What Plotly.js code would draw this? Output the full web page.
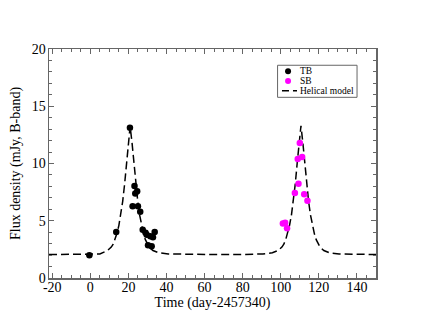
<!DOCTYPE html>
<html>
<head>
<meta charset="utf-8">
<script src="https://cdn.plot.ly/plotly-3.0.1.min.js"></script>
<style>html,body{margin:0;padding:0;background:#fff;}#chart{width:423px;height:327px;}</style>
</head>
<body>
<div id="chart"></div>
<script>
// TB observations
const tbX = [-0.5, 13.6, 20.8, 22.2, 23.2, 23.6, 24.6, 25.0, 26.2, 27.5, 29.0, 29.6, 30.3, 31.5, 32.2, 32.9, 33.8];
const tbY = [1.98, 4.02, 13.13, 6.26, 8.03, 7.37, 7.57, 6.26, 5.79, 4.22, 3.96, 3.78, 2.85, 3.64, 2.77, 3.55, 4.02];
// SB observations
const sbX = [101.1, 102.3, 103.3, 107.4, 108.9, 109.3, 110.0, 111.2, 112.3, 114.0];
const sbY = [4.75, 4.83, 4.34, 7.42, 10.39, 8.24, 11.79, 10.57, 7.31, 6.75];
// Helical model curve
const modelX = [-21.7, -10, 0, 5, 9, 11, 12, 13, 14, 15, 16, 17, 18, 19, 19.9, 20.9, 21.9, 22.9, 23.9, 24.9, 25.9, 26.9, 27.9, 28.9, 29.9, 30.9, 32.9, 35.9, 40.9, 50.9, 65, 80.6, 90.6, 95.6, 98.6, 100.6, 101.6, 102.6, 103.6, 104.6, 105.6, 106.6, 107.6, 108.6, 109.6, 110.6, 111.6, 112.6, 113.6, 114.6, 115.6, 116.6, 117.6, 118.6, 119.6, 120.6, 122.6, 125.6, 130.6, 140.6, 150];
const modelY = [2.05, 2.05, 2.06, 2.1, 2.4, 2.7, 2.95, 3.35, 3.9, 4.6, 5.5, 6.7, 8.2, 10.0, 11.8, 13.25, 11.8, 10.0, 8.2, 6.7, 5.5, 4.6, 3.9, 3.35, 2.95, 2.7, 2.4, 2.2, 2.1, 2.06, 2.05, 2.06, 2.1, 2.2, 2.4, 2.7, 2.95, 3.35, 3.9, 4.6, 5.5, 6.7, 8.2, 10.0, 11.8, 13.3, 11.8, 10.0, 8.2, 6.7, 5.5, 4.6, 3.9, 3.35, 2.95, 2.7, 2.4, 2.2, 2.1, 2.06, 2.05];
const legendLabels = ["TB", "SB", "Helical model"];
const xTitle = "Time (day-2457340)";
const yTitle = "Flux density (mJy, B-band)";

const serif = "Liberation Serif";
const frame = "#666666";

const traces = [
  {x: modelX, y: modelY, mode: "lines", line: {color: "#000", width: 1.5, dash: "8px,4px"}, hoverinfo: "skip"},
  {x: tbX, y: tbY, mode: "markers", marker: {color: "#000", size: 6.5}},
  {x: sbX, y: sbY, mode: "markers", marker: {color: "#ff00ff", size: 6.5}}
];

const rows = [0.903, 0.860, 0.818];
const shapes = [
  {type: "rect", xref: "paper", yref: "paper", x0: 0.699, x1: 0.942, y0: 0.789, y1: 0.929, line: {color: frame, width: 1}, fillcolor: "#fff"},
  {type: "circle", xref: "paper", yref: "paper", xsizemode: "pixel", ysizemode: "pixel", xanchor: 0.731, yanchor: rows[0], x0: -3, x1: 3, y0: -3, y1: 3, fillcolor: "#000", line: {width: 0}},
  {type: "circle", xref: "paper", yref: "paper", xsizemode: "pixel", ysizemode: "pixel", xanchor: 0.731, yanchor: rows[1], x0: -3, x1: 3, y0: -3, y1: 3, fillcolor: "#ff00ff", line: {width: 0}},
  {type: "line", xref: "paper", yref: "paper", x0: 0.7125, x1: 0.7584, y0: rows[2], y1: rows[2], line: {color: "#000", width: 1.5, dash: "7px,4px"}}
];
const annotations = legendLabels.map((t, i) => ({
  xref: "paper", yref: "paper", x: 0.766, y: rows[i], xanchor: "left", yanchor: "middle",
  text: t, showarrow: false, borderpad: 0, font: {family: serif, size: 9.5, color: "#000"}
}));

const axisCommon = {
  showgrid: false, zeroline: false, showline: true, linecolor: frame, linewidth: 1.5,
  mirror: "allticks", ticks: "inside", ticklen: 5, tickcolor: frame, tickwidth: 1,
  tickfont: {family: serif, size: 14, color: "#000"}
};

const layout = {
  width: 423, height: 327,
  margin: {l: 49, r: 47, t: 49, b: 49},
  paper_bgcolor: "#fff", plot_bgcolor: "#fff",
  showlegend: false,
  font: {family: serif},
  xaxis: Object.assign({}, axisCommon, {
    range: [-21.7, 150], tickvals: [-20, 0, 20, 40, 60, 80, 100, 120, 140],
    ticktext: ["-20", "0", "20", "40", "60", "80", "100", "120", "140"],
    ticklabelstandoff: -4,
    minor: {dtick: 5, tick0: 0, ticks: "inside", ticklen: 3, tickcolor: frame, tickwidth: 1},
    title: {text: xTitle, font: {family: serif, size: 14, color: "#000"}, standoff: 0}
  }),
  yaxis: Object.assign({}, axisCommon, {
    range: [0, 20], tickvals: [0, 5, 10, 15, 20], ticktext: ["0", "5", "10", "15", "20"],
    ticklabelstandoff: -1,
    minor: {dtick: 1, tick0: 0, ticks: "inside", ticklen: 3, tickcolor: frame, tickwidth: 1},
    title: {text: yTitle, font: {family: serif, size: 14, color: "#000"}, standoff: 8}
  }),
  shapes: shapes,
  annotations: annotations
};

Plotly.newPlot("chart", traces, layout, {staticPlot: true, displayModeBar: false});
</script>
</body>
</html>
